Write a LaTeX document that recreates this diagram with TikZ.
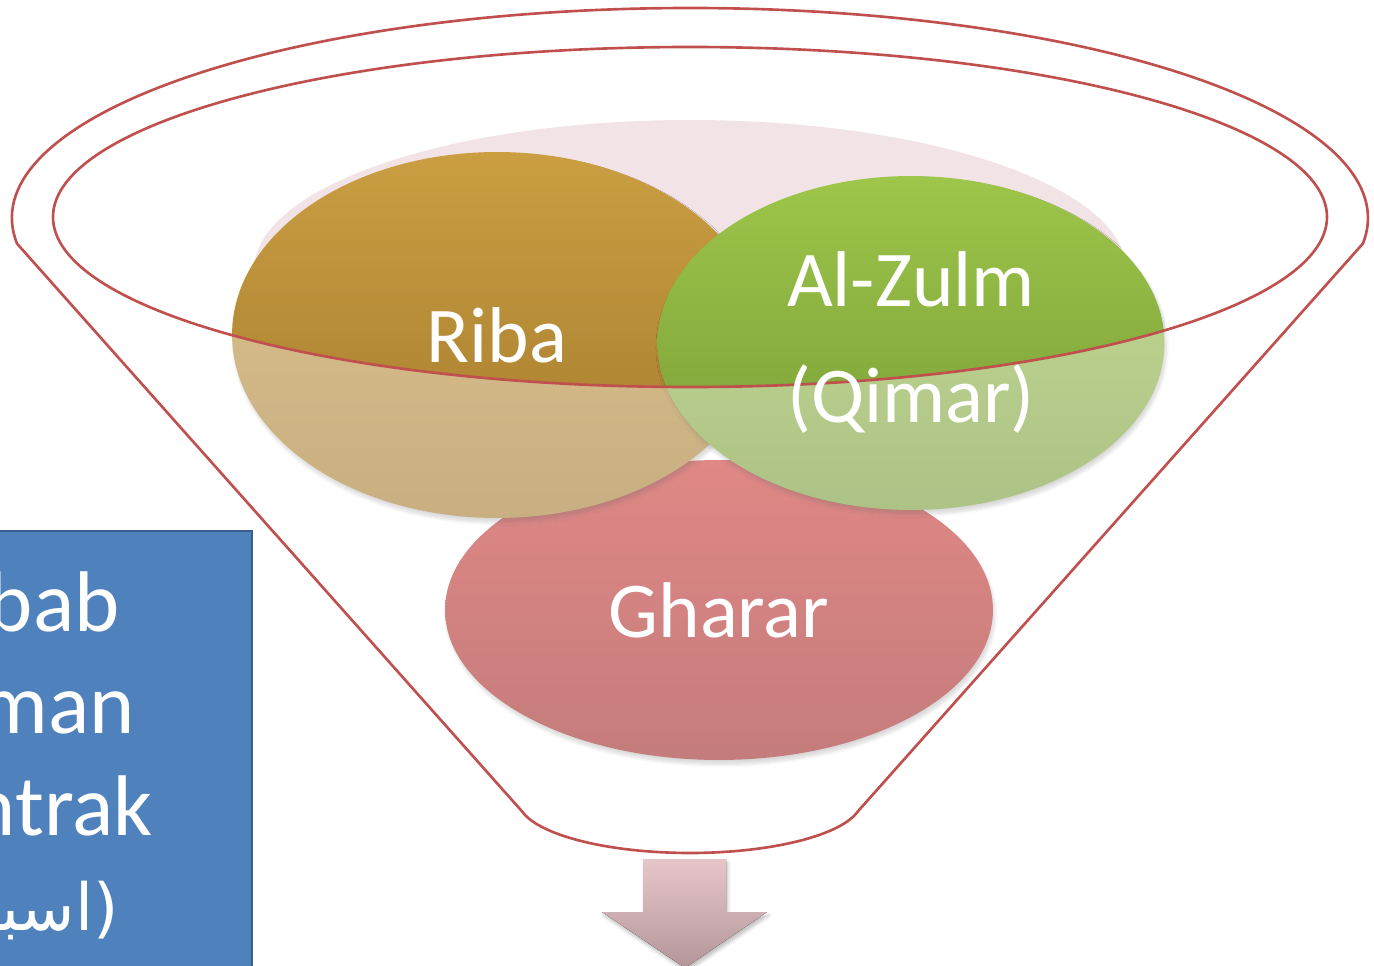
\documentclass[tikz,border=0pt]{standalone}
\usepackage{fontspec}
\setmainfont{Carlito}
\newfontfamily\arabicfont[Script=Arabic]{DejaVu Sans}
\TeXXeTstate=1
\usetikzlibrary{shapes.geometric,shadows.blur}

\definecolor{funnelred}{HTML}{C0504D}
\definecolor{pinkbg}{HTML}{F2E4E6}
\definecolor{ribatop}{HTML}{CA9E41}
\definecolor{ribabot}{HTML}{A47A2E}
\definecolor{zulmtop}{HTML}{9DC64A}
\definecolor{zulmbot}{HTML}{779A36}
\definecolor{ghatop}{HTML}{CB3935}
\definecolor{ghabot}{HTML}{9D2625}
\definecolor{boxblue}{HTML}{4F81BD}
\definecolor{boxedge}{HTML}{3A5F8E}
\definecolor{arrtop}{HTML}{E6C6C9}
\definecolor{arrbot}{HTML}{B4969A}

\tikzset{
  blob/.style={ellipse, inner sep=0pt,
    blur shadow={shadow xshift=1pt, shadow yshift=-2.5pt, shadow opacity=25, shadow blur steps=6}},
  blobtext/.style={text=white, inner sep=0pt, align=center, font=\fontsize{45}{66}\selectfont},
  boxtext/.style={text=white, inner sep=0pt, anchor=base east, font=\fontsize{49}{58}\selectfont},
  rim/.style={draw=funnelred, line width=1.5pt}
}

\begin{document}
\begin{tikzpicture}[x=0.02cm, y=-0.02cm]
  \useasboundingbox (0,0) rectangle (1374,966);
  \clip (0,0) rectangle (1374,966);

  % box on the left, cut by the page
  \draw [fill=boxblue, draw=boxedge, line width=1.6pt] (-20,531) rectangle (252,1000);
  \node [boxtext] (bab) at (120,631) {bab};
  \node [boxtext] (man) at (135,733) {man};
  \node [boxtext] (ntrak) at (153,835) {ntrak};
  \node [boxtext, font=\fontsize{37}{46}\selectfont] (arab) at (119,930) {\arabicfont\beginR(اسبـ\endR};

  % pale fill inside the rim
  \begin{scope}
    \clip (690,217) ellipse [x radius=637, y radius=170];
    \fill [pinkbg] (690,270) ellipse [x radius=436, y radius=150];
  \end{scope}

  \node [blob, minimum width=10.96cm, minimum height=6cm, top color=ghatop, bottom color=ghabot] (gharar) at (719,610) {};
  \node [blob, minimum width=10.6cm, minimum height=7.32cm, top color=ribatop, bottom color=ribabot] (riba) at (497,335) {};
  \node [blob, minimum width=10.14cm, minimum height=6.68cm, top color=zulmtop, bottom color=zulmbot] (zulm) at (911,343) {};

  % funnel: body lightens what lies below the rim
  \path [rim, fill=white, fill opacity=.4, even odd rule]
    (17,243.6) arc [start angle=173, end angle=367, x radius=678, y radius=210]
    -- (858.2,811) arc [start angle=12, end angle=168, x radius=172, y radius=53]
    -- cycle
    (690,217) ellipse [x radius=637, y radius=170];

  \node [blobtext] (ribatext) at (riba) {Riba};
  \node [blobtext] (zulmtext) at (zulm) {Al-Zulm\\(Qimar)};
  \node [blobtext] (gharartext) at (gharar) {Gharar};

  % arrow out of the funnel
  \fill [top color=arrtop, bottom color=arrbot,
    blur shadow={shadow xshift=1pt, shadow yshift=-2pt, shadow opacity=25}]
    (643,859) -- (726,859) -- (726,912) -- (767,912) -- (685,968)
    -- (602,912) -- (643,912) -- cycle;
\end{tikzpicture}
\end{document}
